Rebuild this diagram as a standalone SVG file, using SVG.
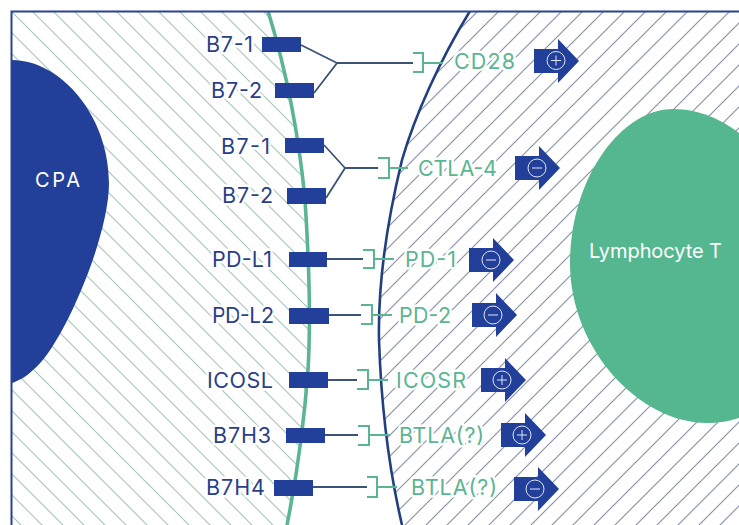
<svg xmlns="http://www.w3.org/2000/svg" width="739" height="525" viewBox="0 0 739 525">
<style>
text{font-family:"Inter","Liberation Sans",sans-serif;font-size:21.5px;paint-order:stroke;stroke:#fff;stroke-width:5px;stroke-linejoin:round}
.l{fill:#2a3f8a}
.r{fill:#5bb592}
.n{fill:#fff;stroke:none;font-size:20px}
.b{fill:#22409a}
.c{fill:none;stroke:#3a5578;stroke-width:1.8}
.k{fill:none;stroke:#5bb592;stroke-width:2}
.s{fill:none;stroke:#dfe6f5;stroke-width:1}
</style>
<defs>
<pattern id="hl" width="21" height="21" patternUnits="userSpaceOnUse"><path d="M-2 -2L23 23M-2 19L2 23M19 -2L23 2" stroke="#a9c6bc" stroke-width="1.2"/></pattern>
<pattern id="hr" width="21" height="21" patternUnits="userSpaceOnUse" patternTransform="translate(6 0)"><path d="M-2 23L23 -2M-2 2L2 -2M19 23L23 19" stroke="#8a93a6" stroke-width="1.2"/></pattern>
<clipPath id="f"><rect x="12" y="11" width="727" height="514"/></clipPath>
<path id="arrow" class="b" d="M-23 -12H1V-22L22 0L1 22V12H-23Z"/>
</defs>
<rect width="739" height="525" fill="#fff"/>
<g clip-path="url(#f)">
<path d="M12 11H268C283 60 298 125 305 200C309 260 311 320 308 370C304 425 296 480 287 525H12Z" fill="url(#hl)"/>
<path d="M470 11C440 60 415 115 402 160C385 230 378 290 379 340C381 400 388 465 402 525H739V11Z" fill="url(#hr)"/>
<path d="M268 11C283 60 298 125 305 200C309 260 311 320 308 370C304 425 296 480 287 525" fill="none" stroke="#5bb592" stroke-width="3.600"/>
<path d="M470 11C440 60 415 115 402 160C385 230 378 290 379 340C381 400 388 465 402 525" fill="none" stroke="#22407f" stroke-width="2.600"/>
<g id="cpa"><path class="b" d="M12 60C60 60 109 115 109 183C109 240 60 350 33 370C26 377 18 381 12 383Z"/><text class="n" x="35" y="187" textLength="45">CPA</text></g>
<g id="lymphocyte"><path fill="#55b78f" d="M673 109C700 109 722 120 739 133V418C730 421 718 423 707 423C640 423 570 350 570 263C570 180 620 109 673 109Z"/><text class="n" x="589" y="258" textLength="133">Lymphocyte T</text></g>
</g>
<path d="M11.500 525V11.500H739" fill="none" stroke="#2a4390" stroke-width="2"/>
<g id="connectors">
<path class="c" d="M301 45L337 63L314 93M337 63H413"/>
<path class="c" d="M324 145L345 168L326 198M345 168H378"/>
<path class="c" d="M327 259H363M329 315H361M328 380H357M325 435H358M313 487H367"/>
<g class="k">
<path d="M413 53H423V72H413M423 63H443"/>
<path d="M378 158H389V178H378M389 168H408"/>
<path d="M363 250H374V268H363M374 259H394"/>
<path d="M361 305H372V324H361M372 315H392"/>
<path d="M357 370H368V389H357M368 380H388"/>
<path d="M358 426H369V445H358M369 435H390"/>
<path d="M367 477H377V497H367M377 487H397"/>
</g>
</g>
<g id="b71a"><text class="l" x="206" y="52" textLength="47">B7-1</text><rect class="b" x="262" y="37" width="39" height="15"/></g>
<g id="b72a"><text class="l" x="211" y="98" textLength="51">B7-2</text><rect class="b" x="275" y="83" width="39" height="15"/></g>
<g id="b71b"><text class="l" x="221" y="154" textLength="49">B7-1</text><rect class="b" x="285" y="138" width="39" height="15"/></g>
<g id="b72b"><text class="l" x="222" y="203" textLength="51">B7-2</text><rect class="b" x="287" y="188" width="39" height="16"/></g>
<g id="pdl1"><text class="l" x="212" y="267" textLength="60">PD-L1</text><rect class="b" x="289" y="252" width="38" height="15"/></g>
<g id="pdl2"><text class="l" x="212" y="323" textLength="62">PD-L2</text><rect class="b" x="289" y="308" width="40" height="16"/></g>
<g id="icosl"><text class="l" x="207" y="388" textLength="66">ICOSL</text><rect class="b" x="289" y="372" width="39" height="16"/></g>
<g id="b7h3"><text class="l" x="213" y="443" textLength="58">B7H3</text><rect class="b" x="286" y="428" width="39" height="15"/></g>
<g id="b7h4"><text class="l" x="206" y="495" textLength="59">B7H4</text><rect class="b" x="274" y="480" width="39" height="16"/></g>
<g id="cd28"><text class="r" x="454" y="69" textLength="61">CD28</text><use href="#arrow" x="557" y="61"/><circle class="s" cx="556" cy="60.500" r="9"/><path class="s" d="M551 60.500H561M556 55.500V65.500"/></g>
<g id="ctla4"><text class="r" x="418" y="176" textLength="79">CTLA-4</text><use href="#arrow" x="538" y="168"/><circle class="s" cx="537" cy="168" r="9"/><path class="s" d="M532 168H542"/></g>
<g id="pd1"><text class="r" x="405" y="267" textLength="51">PD-1</text><use href="#arrow" x="492" y="260"/><circle class="s" cx="491" cy="260" r="9"/><path class="s" d="M486 260H496"/></g>
<g id="pd2"><text class="r" x="399" y="323" textLength="52">PD-2</text><use href="#arrow" x="495" y="315"/><circle class="s" cx="493" cy="315" r="9"/><path class="s" d="M488 315H498"/></g>
<g id="icosr"><text class="r" x="396" y="388" textLength="70">ICOSR</text><use href="#arrow" x="504" y="380"/><circle class="s" cx="502" cy="380" r="9"/><path class="s" d="M497 380H507M502 375V385"/></g>
<g id="btla1"><text class="r" x="399" y="443" textLength="85">BTLA(?)</text><use href="#arrow" x="524" y="435"/><circle class="s" cx="522" cy="435" r="9"/><path class="s" d="M517 435H527M522 430V440"/></g>
<g id="btla2"><text class="r" x="411" y="495" textLength="86">BTLA(?)</text><use href="#arrow" x="537" y="489"/><circle class="s" cx="535" cy="489" r="9"/><path class="s" d="M530 489H540"/></g>
</svg>
